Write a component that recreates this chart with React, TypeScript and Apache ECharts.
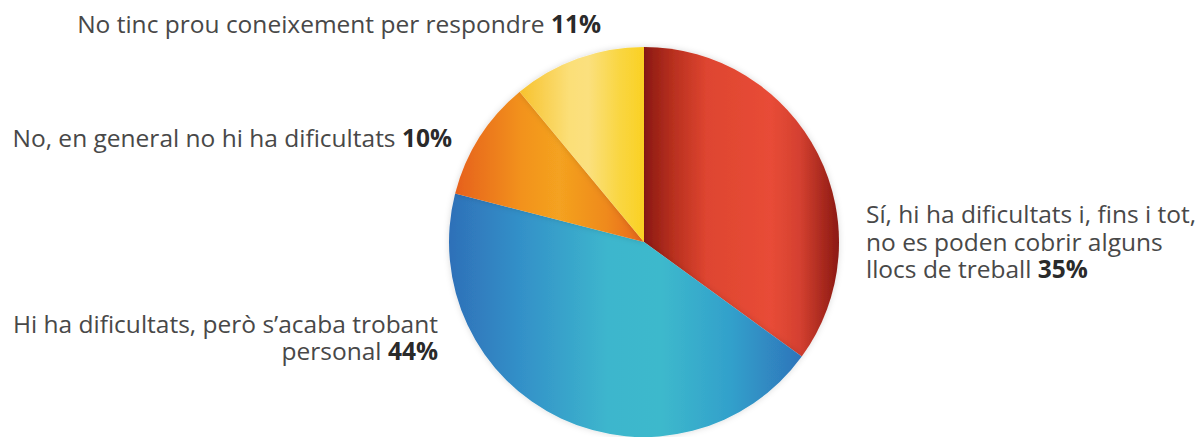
import React, { useEffect, useRef } from "react";
import * as echarts from "echarts";

const categories = [
  "Sí, hi ha dificultats i, fins i tot,\nno es poden cobrir alguns\nllocs de treball",
  "Hi ha dificultats, però s’acaba trobant\npersonal",
  "No, en general no hi ha dificultats",
  "No tinc prou coneixement per respondre",
];
const values = [35, 44, 10, 11];

const gradients = [
  [[0, "#8b1912"], [0.15, "#b8301f"], [0.32, "#de4530"], [0.65, "#e84c37"], [0.8, "#d44030"], [1, "#8b1912"]],
  [[0, "#2e70b8"], [0.2, "#3390c8"], [0.45, "#3db6cd"], [0.6, "#3db9cc"], [0.8, "#32a0cb"], [1, "#2e74ba"]],
  [[0, "#e6601d"], [0.35, "#f2921d"], [0.55, "#f4a220"], [0.8, "#ef8a1b"], [1, "#e8661a"]],
  [[0, "#f7c22e"], [0.4, "#fbdf78"], [0.55, "#fbe07e"], [0.8, "#f9d642"], [1, "#fad123"]],
];

const labelPos = [
  { x: 866, y: 241, align: "left" },
  { x: 438, y: 337, align: "right" },
  { x: 452, y: 137, align: "right" },
  { x: 601, y: 23, align: "right" },
];

export default function App() {
  const ref = useRef<HTMLDivElement>(null);
  useEffect(() => {
    if (!ref.current) return;
    const chart = echarts.init(ref.current, undefined, { renderer: "svg" });
    chart.setOption({
      animation: false,
      series: [
        {
          type: "pie",
          center: [644, 242],
          radius: 195,
          startAngle: 90,
          clockwise: true,
          avoidLabelOverlap: false,
          data: categories.map((name, i) => ({
            name,
            value: values[i],
            itemStyle: {
              color: new echarts.graphic.LinearGradient(
                0, 0, 1, 0,
                gradients[i].map(([offset, color]) => ({ offset: offset as number, color: color as string }))
              ),
            },
          })),
          itemStyle: { borderWidth: 0, shadowBlur: 6, shadowColor: "rgba(0,0,0,0.15)" },
          labelLine: { show: false },
          label: {
            show: true,
            position: "outside",
            overflow: "none",
            formatter: (p: any) => {
              const lines = String(p.name).split("\n");
              return lines
                .map((l, k) => (k === lines.length - 1 ? `{n|${l} }{b|${p.value}%}` : `{n|${l}}`))
                .join("\n");
            },
            rich: {
              n: { fontFamily: "Open Sans", fontSize: 24.5, color: "#484848", lineHeight: 27.5 },
              b: { fontFamily: "Open Sans", fontSize: 24.5, fontWeight: "bold", color: "#2a2a2a", lineHeight: 27.5 },
            },
          },
          labelLayout: (params: any) => {
            const lp = labelPos[params.dataIndex];
            return { x: lp.x, y: lp.y, align: lp.align, verticalAlign: "middle" };
          },
          emphasis: { disabled: true },
        },
      ],
    });
    return () => chart.dispose();
  }, []);
  return (
    <div
      ref={ref}
      style={{ position: "fixed", left: 0, top: 0, width: 1200, height: 437, background: "#ffffff" }}
    />
  );
}
